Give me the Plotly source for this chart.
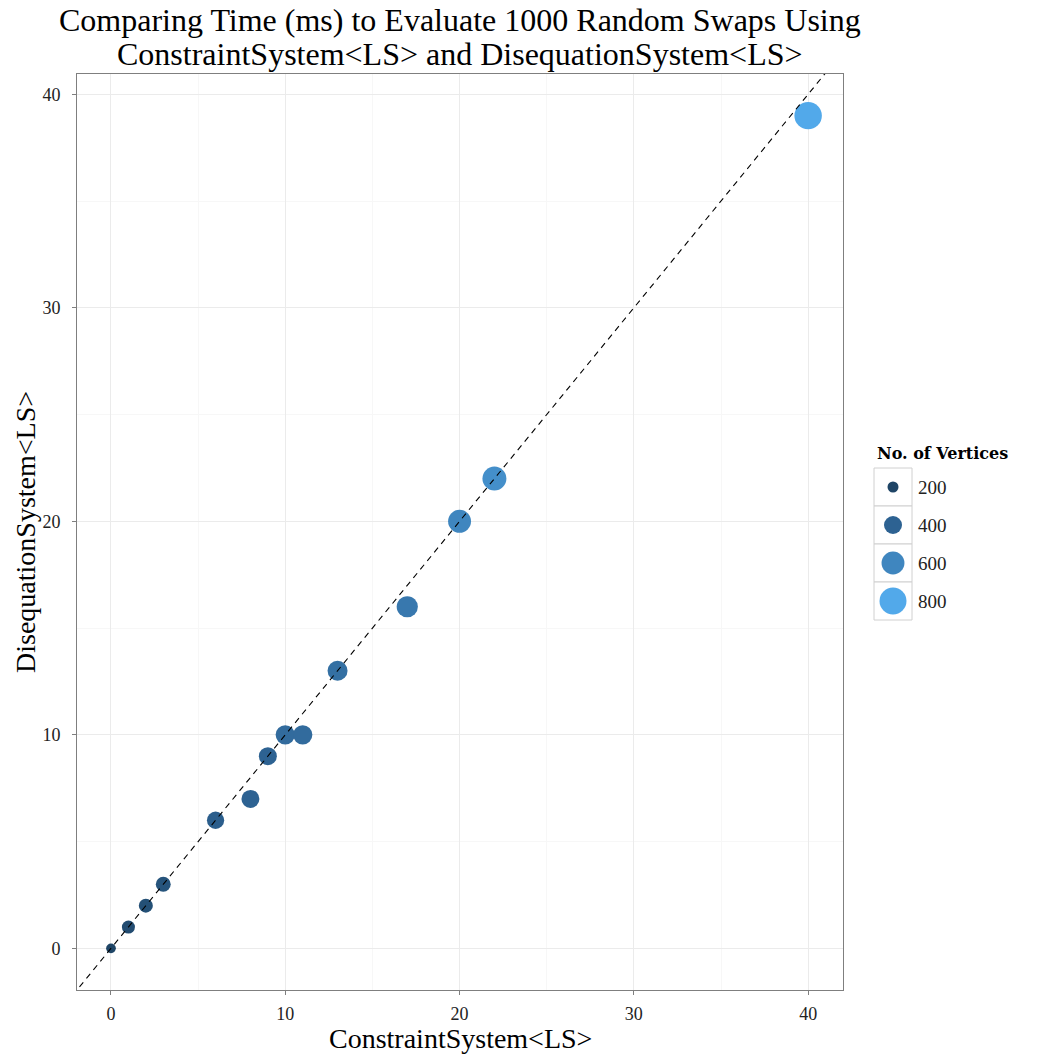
import math
import plotly.graph_objects as go

# ---- data ----
constraint_ms = [0, 1, 2, 3, 6, 8, 9, 10, 11, 13, 17, 20, 22, 40]
disequation_ms = [0, 1, 2, 3, 6, 7, 9, 10, 10, 13, 16, 20, 22, 39]
vertices = [175, 250, 275, 300, 375, 400, 400, 450, 450, 475, 525, 600, 650, 825]
legend_breaks = [200, 400, 600, 800]

TITLE_LINES = ["Comparing Time (ms) to Evaluate 1000 Random Swaps Using",
               "ConstraintSystem&lt;LS&gt; and DisequationSystem&lt;LS&gt;"]
XTITLE = "ConstraintSystem&lt;LS&gt;"
YTITLE = "DisequationSystem&lt;LS&gt;"
LEGEND_TITLE = "<b>No. of Vertices</b>"

W, H = 1040, 1057
FONT = "Liberation Serif"

# ---- scales ----
stops = [(200, "#1f4566"), (400, "#2d6292"), (600, "#3f86bf"), (800, "#52a9ea")]


def hex2rgb(h):
    return [int(h[i:i + 2], 16) for i in (1, 3, 5)]


def colour_of(v):
    v = min(max(v, stops[0][0]), stops[-1][0])
    for (v0, c0), (v1, c1) in zip(stops[:-1], stops[1:]):
        if v0 <= v <= v1:
            t = (v - v0) / (v1 - v0)
            a, b = hex2rgb(c0), hex2rgb(c1)
            return "rgb(%d,%d,%d)" % tuple(round(a[i] + (b[i] - a[i]) * t) for i in range(3))
    return stops[-1][1]


def size_of(v):
    return math.sqrt(max(-82 + 1.013 * v, 9))


# plot area in pixels
PL, PR, PT, PB = 77, 843, 74, 990
xdom = [PL / W, PR / W]
ydom = [1 - PB / H, 1 - PT / H]

fig = go.Figure()
fig.add_trace(go.Scatter(
    x=constraint_ms, y=disequation_ms, mode="markers",
    marker=dict(size=[size_of(v) for v in vertices],
                color=[colour_of(v) for v in vertices],
                line=dict(width=0), opacity=1),
    showlegend=False, hoverinfo="x+y+text", text=[str(v) for v in vertices],
))
fig.add_trace(go.Scatter(
    x=[-5, 45], y=[-5, 45], mode="lines",
    line=dict(color="black", width=1.1, dash="6px,5px"),
    showlegend=False, hoverinfo="skip",
))

axis_common = dict(
    showgrid=True, gridcolor="#ebebeb", gridwidth=1,
    zeroline=False, showline=True, linecolor="#7f7f7f", linewidth=1, mirror=True,
    ticks="outside", ticklen=4, tickcolor="#7f7f7f", tickwidth=1,
    tickfont=dict(family=FONT, size=18, color="#222222"),
    dtick=10, tick0=0,
    minor=dict(dtick=5, tick0=0, showgrid=True, gridcolor="#f7f7f7", gridwidth=1, ticks=""),
)
fig.update_layout(
    width=W, height=H,
    margin=dict(l=0, r=0, t=0, b=0),
    paper_bgcolor="white", plot_bgcolor="white",
    xaxis=dict(domain=xdom, range=[-1.95, 42.0], ticklabelstandoff=3, **axis_common),
    yaxis=dict(domain=ydom, range=[-1.95, 40.95], ticklabelstandoff=8, **axis_common),
    font=dict(family=FONT),
    showlegend=False,
)

annotations = []
for i, line in enumerate(TITLE_LINES):
    annotations.append(dict(text=line, x=(PL + PR) / 2 / W, y=1 - (20 + 34 * i) / H,
                            xref="paper", yref="paper", xanchor="center", yanchor="middle",
                            showarrow=False, font=dict(family=FONT, size=32, color="black")))
annotations += [
    dict(text=XTITLE, x=(PL + PR) / 2 / W, y=1 - 1038 / H, xref="paper", yref="paper",
         xanchor="center", yanchor="middle", showarrow=False,
         font=dict(family=FONT, size=28, color="black")),
    dict(text=YTITLE, x=25 / W, y=1 - (PT + PB) / 2 / H, xref="paper", yref="paper",
         xanchor="center", yanchor="middle", textangle=-90, showarrow=False,
         font=dict(family=FONT, size=28, color="black")),
    dict(text=LEGEND_TITLE, x=875 / W, y=1 - 453 / H, xref="paper", yref="paper",
         xanchor="left", yanchor="middle", showarrow=False,
         font=dict(family="DejaVu Serif", size=16, color="black")),
]

shapes = []
box_left, box_w, box_top, box_h = 874, 38, 468, 38
for i, v in enumerate(legend_breaks):
    y0 = box_top + i * box_h
    shapes.append(dict(type="rect", xref="paper", yref="paper",
                       x0=box_left / W, x1=(box_left + box_w) / W,
                       y0=1 - (y0 + box_h) / H, y1=1 - y0 / H,
                       line=dict(color="#d0d0d0", width=1), fillcolor="white", layer="above"))
    cx, cy, r = box_left + box_w / 2, y0 + box_h / 2, size_of(v) / 2
    shapes.append(dict(type="circle", xref="paper", yref="paper",
                       x0=(cx - r) / W, x1=(cx + r) / W,
                       y0=1 - (cy + r) / H, y1=1 - (cy - r) / H,
                       line=dict(width=0), fillcolor=colour_of(v), layer="above"))
    annotations.append(dict(text=str(v), x=(box_left + box_w + 4) / W, y=1 - cy / H,
                            xref="paper", yref="paper", xanchor="left", yanchor="middle",
                            showarrow=False, font=dict(family=FONT, size=19, color="#222222")))

fig.update_layout(annotations=annotations, shapes=shapes)
fig.write_html("out.html")
